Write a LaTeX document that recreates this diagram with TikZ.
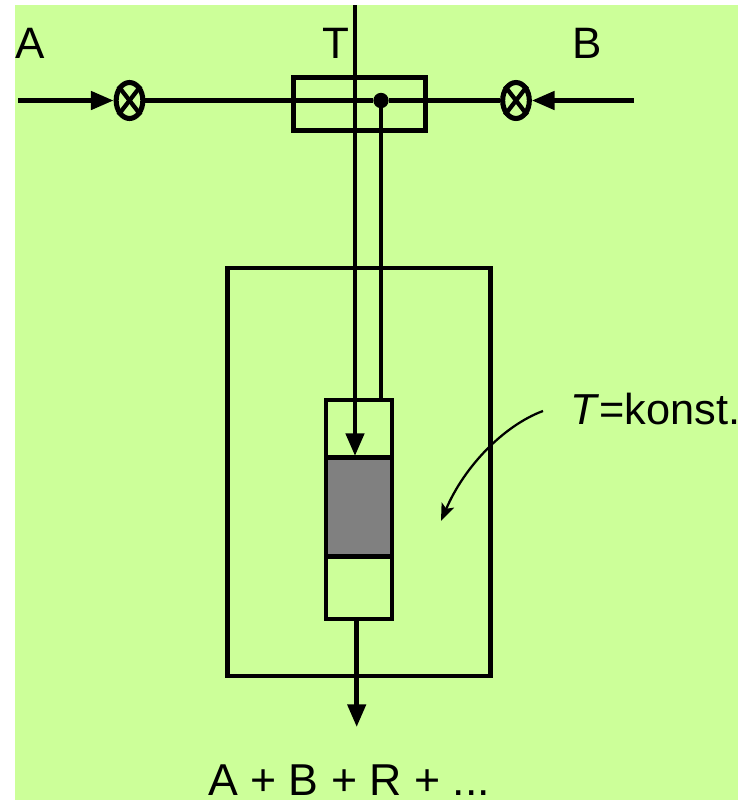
\documentclass[tikz,border=0pt]{standalone}
\usepackage{fontspec}
\setmainfont{Liberation Sans}
\usepackage{tikz}
\usetikzlibrary{arrows.meta,shapes.geometric}
\definecolor{bggreen}{HTML}{CCFF99}

\begin{document}
\begin{tikzpicture}[x=0.75pt, y=-0.75pt, every node/.style={font=\fontsize{33}{36}\selectfont, inner sep=0pt},
	box/.style={draw, line width=3.4pt, rectangle, inner sep=0pt},
	valve/.style={draw, line width=3.8pt, ellipse, minimum width=20pt, minimum height=27pt, inner sep=0pt},
	pipe/.style={line width=3.4pt},
	flow/.style={pipe, -{Triangle[length=17pt,width=13.5pt]}}]
	\useasboundingbox (0,0) rectangle (738,800);
	\fill[bggreen] (15,5) rectangle (738,800);
	\node[box, minimum width=262.5*0.75pt, minimum height=408*0.75pt] (oven) at (359,472) {};
	\node[box, minimum width=66*0.75pt, minimum height=219*0.75pt] (tube) at (359,509.5) {};
	\node[box, fill=gray, minimum width=66*0.75pt, minimum height=99*0.75pt] (cat) at (359,507) {};
	\node[box, minimum width=132*0.75pt, minimum height=53*0.75pt] (mix) at (359.5,104) {};
	\node[valve] (valA) at (129.5,100.5) {};
	\node[valve] (valB) at (516,100.5) {};
	\node[circle, fill=black, minimum size=11.5pt] (dot) at (381,100.5) {};
	\coordinate (inA) at (18,100.5);
	\coordinate (inB) at (634,100.5);
	\coordinate (feed) at (355,5);
	\coordinate (catIn) at (355,456);
	\coordinate (tubeIn) at (381,400);
	\coordinate (tubeOut) at (356.7,619);
	\coordinate (out) at (356.7,727);
	\coordinate (noteEnd) at (543,411);
	\coordinate (noteTip) at (441,521);
	\foreach \v in {valA, valB} {\draw[line width=3.2pt] (\v.north west) -- (\v.south east); \draw[line width=3.2pt] (\v.north east) -- (\v.south west);}
	\draw[flow] (inA) -- (valA.west);
	\draw[flow] (inB) -- (valB.east);
	\draw[pipe] (valA) -- (dot);
	\draw[pipe] (dot) -- (valB);
	\draw[pipe] (dot) -- (tubeIn);
	\draw[flow] (feed) -- (catIn);
	\draw[flow] (tubeOut) -- (out);
	\draw[line width=1.7pt, -{Stealth[length=13pt,width=10pt,inset=3pt]}] (noteEnd) .. controls (505,425) and (465,465) .. (noteTip);
	\node[anchor=base west] (labA) at (15,58) {A};
	\node[anchor=base west] (labT) at (322,58) {T};
	\node[anchor=base west] (labB) at (572,58) {B};
	\node[anchor=base west, font=\fontsize{32.5}{36}\selectfont] (labK) at (570,424) {\textit{T}=konst.};
	\node[anchor=base west, font=\fontsize{33.5}{36}\selectfont] (labOut) at (208,795) {A + B + R + ...};
\end{tikzpicture}
\end{document}
